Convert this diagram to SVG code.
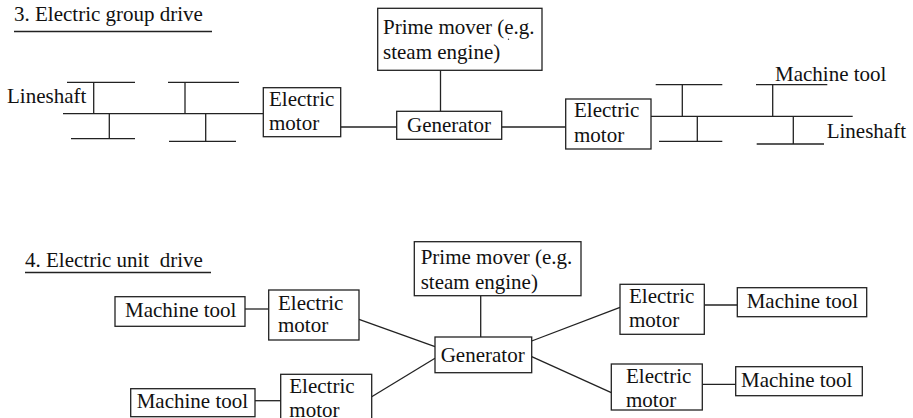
<svg xmlns="http://www.w3.org/2000/svg" width="913" height="418" viewBox="0 0 913 418">
<style>
text{font-family:"Liberation Serif","Times New Roman",serif;font-size:21px;fill:#111}
.box{fill:#fff;stroke:#222;stroke-width:1.3}
.ln{stroke:#222;stroke-width:1.3;fill:none}
</style>
<rect width="913" height="418" fill="#fff"/>
<g id="title3">
<text x="14" y="21">3. Electric group drive</text>
<line class="ln" x1="14" y1="31.5" x2="212" y2="31.5"/>
</g>
<g id="title4">
<text x="25" y="266.5" xml:space="preserve">4. Electric unit  drive</text>
<line class="ln" x1="25" y1="272.5" x2="211" y2="272.5"/>
</g>
<g id="connectors">
<line class="ln" x1="440.5" y1="70" x2="440.5" y2="111"/>
<line class="ln" x1="341" y1="127" x2="397" y2="127"/>
<line class="ln" x1="502" y1="127" x2="566" y2="127"/>
<line class="ln" x1="63" y1="113.7" x2="263" y2="113.7"/>
<line class="ln" x1="67" y1="82.3" x2="135" y2="82.3"/>
<line class="ln" x1="93.7" y1="82.3" x2="93.7" y2="113.7"/>
<line class="ln" x1="71" y1="138.7" x2="135" y2="138.7"/>
<line class="ln" x1="109.3" y1="113.7" x2="109.3" y2="138.7"/>
<line class="ln" x1="168" y1="82.3" x2="239" y2="82.3"/>
<line class="ln" x1="185" y1="82.3" x2="185" y2="113.7"/>
<line class="ln" x1="169" y1="141.3" x2="236" y2="141.3"/>
<line class="ln" x1="205.7" y1="113.7" x2="205.7" y2="141.3"/>
<line class="ln" x1="651" y1="116.3" x2="852.7" y2="116.3"/>
<line class="ln" x1="655.7" y1="84.7" x2="722.3" y2="84.7"/>
<line class="ln" x1="682.3" y1="84.7" x2="682.3" y2="116.3"/>
<line class="ln" x1="659" y1="141.3" x2="722.3" y2="141.3"/>
<line class="ln" x1="697.3" y1="116.3" x2="697.3" y2="141.3"/>
<line class="ln" x1="756" y1="84.7" x2="827.3" y2="84.7"/>
<line class="ln" x1="772.7" y1="84.7" x2="772.7" y2="116.3"/>
<line class="ln" x1="756.7" y1="144" x2="824" y2="144"/>
<line class="ln" x1="793.3" y1="116.3" x2="793.3" y2="144"/>
<line class="ln" x1="480.7" y1="296" x2="480.7" y2="337"/>
<line class="ln" x1="245" y1="309" x2="269" y2="309"/>
<line class="ln" x1="359" y1="319.3" x2="435" y2="346.7"/>
<line class="ln" x1="255" y1="400.7" x2="281" y2="400.7"/>
<line class="ln" x1="371.7" y1="396.7" x2="435" y2="358.3"/>
<line class="ln" x1="531.7" y1="341" x2="620" y2="307.3"/>
<line class="ln" x1="704.3" y1="305" x2="737.3" y2="305"/>
<line class="ln" x1="531.7" y1="356.7" x2="611.3" y2="392.7"/>
<line class="ln" x1="702.3" y1="384.3" x2="735.7" y2="384.3"/>
</g>
<g id="lineshaft-left-label"><text x="7" y="102.7">Lineshaft</text></g>
<g id="lineshaft-right-label"><text x="826.7" y="137.7">Lineshaft</text></g>
<g id="machine-tool-label"><text x="775" y="81">Machine tool</text></g>
<g id="prime-mover-3">
<rect class="box" x="377.7" y="8.3" width="164.3" height="62"/>
<text x="383" y="33.5">Prime mover (e.g.</text>
<text x="383" y="58.5">steam engine)</text>
<circle cx="508.5" cy="39.3" r="0.7" fill="#333"/>
</g>
<g id="generator-3">
<rect class="box" x="396.7" y="111.3" width="105" height="28"/>
<text x="407" y="131.7">Generator</text>
</g>
<g id="motor-3-left">
<rect class="box" x="263.3" y="87.7" width="77.4" height="49"/>
<text x="269" y="105.5">Electric</text>
<text x="269" y="130">motor</text>
</g>
<g id="motor-3-right">
<rect class="box" x="565.7" y="99" width="85.3" height="50"/>
<text x="574" y="116.7">Electric</text>
<text x="574" y="141.7">motor</text>
</g>
<g id="prime-mover-4">
<rect class="box" x="414.3" y="241.7" width="166.7" height="54"/>
<text x="420.7" y="264">Prime mover (e.g.</text>
<text x="420.7" y="289">steam engine)</text>
</g>
<g id="generator-4">
<rect class="box" x="435" y="337" width="96.7" height="35.7"/>
<text x="440.7" y="361.7">Generator</text>
</g>
<g id="tool-4-lt">
<rect class="box" x="115" y="296.7" width="130" height="29.6"/>
<text x="125" y="317.3">Machine tool</text>
</g>
<g id="motor-4-lt">
<rect class="box" x="268.7" y="290" width="90.3" height="50"/>
<text x="278" y="310">Electric</text>
<text x="278" y="331.7">motor</text>
</g>
<g id="tool-4-lb">
<rect class="box" x="130.7" y="388.7" width="124.3" height="28"/>
<text x="136.7" y="408.3">Machine tool</text>
</g>
<g id="motor-4-lb">
<rect class="box" x="280.7" y="374.3" width="91" height="50"/>
<text x="289.3" y="393.3">Electric</text>
<text x="289.3" y="416.5">motor</text>
</g>
<g id="motor-4-rt">
<rect class="box" x="620" y="284.3" width="84.3" height="50"/>
<text x="629" y="302.7">Electric</text>
<text x="629" y="326.7">motor</text>
</g>
<g id="tool-4-rt">
<rect class="box" x="737.3" y="287.7" width="129.4" height="29"/>
<text x="746.7" y="308.3">Machine tool</text>
</g>
<g id="motor-4-rb">
<rect class="box" x="611.3" y="364" width="91" height="46"/>
<text x="626" y="382.7">Electric</text>
<text x="626" y="406.7">motor</text>
</g>
<g id="tool-4-rb">
<rect class="box" x="735.7" y="366.7" width="126.6" height="29"/>
<text x="741" y="386.7">Machine tool</text>
</g>
</svg>
